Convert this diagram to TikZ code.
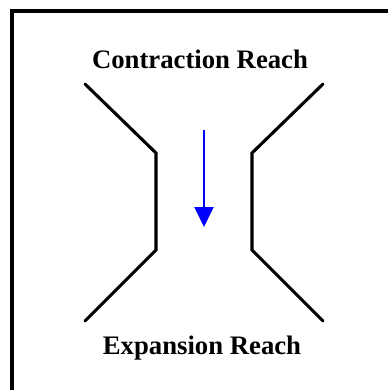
\documentclass[tikz,border=0pt]{standalone}
\usepackage{fontspec}
\setmainfont{Liberation Serif}
\usetikzlibrary{arrows.meta,positioning}

\begin{document}
\begin{tikzpicture}[
    x=0.025cm,
    y=-0.025cm,
    wall/.style={
        line width=2.2pt,
        line cap=round,
        line join=miter
    },
    frame/.style={
        line width=2.8pt
    },
    label/.style={
        font=\fontsize{19}{22}\selectfont\bfseries,
        inner sep=0pt
    },
    flow/.style={
        draw=blue,
        line width=1.4pt,
        -{Triangle[length=20*0.025cm,width=19*0.025cm]}
    }
]
\useasboundingbox (0,0) rectangle (388,390);
\clip (0,0) rectangle (388,390);

% frame (only top and left edges visible)
\draw[frame] (12,400) -- (12,11) -- (400,11);

% labels
\node[label] (contract) at (200,59) {Contraction Reach};
\node[label] (expand) at (202,348) {Expansion Reach};

% channel walls
\draw[wall] (85,84) -- (156,153) -- (156,250) -- (85,321);
\draw[wall] (323,84) -- (252,153) -- (252,250) -- (323,321);

% flow direction
\coordinate (flowtop) at (204,130);
\coordinate (flowend) at (204,227);
\draw[flow] (flowtop) -- (flowend);

\end{tikzpicture}
\end{document}
